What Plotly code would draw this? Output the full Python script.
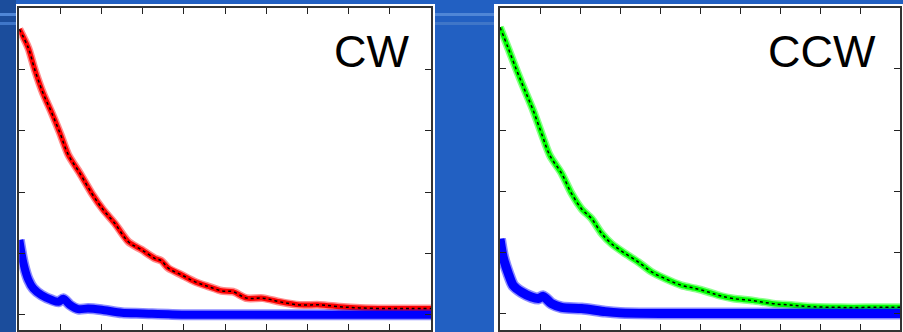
import plotly.graph_objects as go

# ---- data (x in tick units 0..10, y in tick units 0..5) ----
cw_x = [0.0, 0.22, 0.38, 0.58, 0.79, 0.99, 1.19, 1.47, 1.76, 2.04, 2.32, 2.65, 2.97,
        3.29, 3.45, 3.62, 3.94, 4.26, 4.59, 4.91, 5.19, 5.52, 5.92, 6.33, 6.8, 7.3,
        7.79, 8.27, 8.92, 9.5, 10.0]
cw_red = [4.66, 4.35, 3.99, 3.61, 3.29, 2.96, 2.61, 2.31, 1.98, 1.71, 1.49, 1.19, 1.06,
          0.92, 0.88, 0.76, 0.65, 0.54, 0.46, 0.39, 0.375, 0.27, 0.27, 0.21, 0.16, 0.16,
          0.13, 0.11, 0.10, 0.10, 0.10]

cw_blue_x = [0.0, 0.1, 0.22, 0.34, 0.54, 0.79, 0.95, 1.07, 1.23, 1.43, 1.67, 2.0,
             2.49, 3.0, 4.0, 5.0, 6.0, 7.0, 8.0, 9.0, 10.0]
cw_blue = [1.22, 0.84, 0.57, 0.43, 0.32, 0.24, 0.21, 0.26, 0.16, 0.09, 0.10, 0.08,
           0.03, 0.02, 0.0, 0.0, 0.0, 0.0, 0.0, 0.0, 0.0]

ccw_x = [0.0, 0.21, 0.42, 0.62, 0.83, 1.04, 1.25, 1.54, 1.79, 2.04, 2.29, 2.54, 2.79,
         3.13, 3.46, 3.79, 4.13, 4.54, 4.88, 5.21, 5.5, 5.83, 6.33, 6.83, 7.33, 7.83,
         8.5, 9.17, 10.0]
ccw_green = [4.68, 4.33, 3.97, 3.65, 3.32, 2.94, 2.58, 2.29, 1.96, 1.71, 1.55, 1.31,
             1.14, 0.98, 0.84, 0.68, 0.57, 0.46, 0.41, 0.35, 0.29, 0.245, 0.21, 0.16,
             0.135, 0.11, 0.10, 0.10, 0.10]

ccw_blue_x = [0.0, 0.08, 0.21, 0.33, 0.54, 0.79, 0.96, 1.08, 1.29, 1.54, 2.04, 2.63,
              3.0, 4.0, 5.0, 6.0, 7.0, 8.0, 9.0, 10.0]
ccw_blue = [1.22, 0.92, 0.65, 0.46, 0.35, 0.27, 0.245, 0.28, 0.16, 0.10, 0.08, 0.03,
            0.01, 0.0, 0.0, 0.0, 0.0, 0.0, 0.0, 0.0]

x_ticks = list(range(0, 11))
y_ticks = list(range(0, 6))
labels = ["CW", "CCW"]

W, H = 903, 332
fig = go.Figure()


def band(x, y, color, width, xa, ya):
    # soft outer halo + solid core to imitate the noisy band
    fig.add_trace(go.Scatter(x=x, y=y, mode="lines", opacity=0.45,
                             line=dict(color=color, width=width + 3, shape="spline", smoothing=0.7),
                             xaxis=xa, yaxis=ya, showlegend=False, hoverinfo="skip"))
    fig.add_trace(go.Scatter(x=x, y=y, mode="lines",
                             line=dict(color=color, width=width, shape="spline", smoothing=0.7),
                             xaxis=xa, yaxis=ya, showlegend=False))


def fit(x, y, xa, ya):
    fig.add_trace(go.Scatter(x=x, y=y, mode="lines",
                             line=dict(color="black", width=1.5, dash="3px,3px", shape="spline", smoothing=1.0),
                             xaxis=xa, yaxis=ya, showlegend=False))


band(cw_x, cw_red, "#ff0000", 5, "x", "y")
band(cw_blue_x, cw_blue, "#0000ff", 8, "x", "y")
fit(cw_x, cw_red, "x", "y")

band(ccw_x, ccw_green, "#00ff00", 5, "x2", "y2")
band(ccw_blue_x, ccw_blue, "#0000ff", 9, "x2", "y2")
fit(ccw_x, ccw_green, "x2", "y2")

axis_common = dict(showgrid=False, zeroline=False, showticklabels=False, showline=True,
                   linecolor="#333333", linewidth=1.5, mirror="ticks", ticks="inside",
                   ticklen=6, tickwidth=1.2, tickcolor="#222222", fixedrange=True)

ydom = [1 - 330 / H, 1 - 8.3 / H]
fig.update_layout(
    width=W, height=H, margin=dict(l=0, r=0, t=0, b=0),
    paper_bgcolor="#2260c2", plot_bgcolor="white",
    xaxis=dict(domain=[19.3 / W, 431 / W], range=[0, 10], tickvals=x_ticks, anchor="y", **axis_common),
    yaxis=dict(domain=ydom, range=[-0.25, 5.0], tickvals=y_ticks, anchor="x", **axis_common),
    xaxis2=dict(domain=[500 / W, 900 / W], range=[0, 10], tickvals=x_ticks, anchor="y2", **axis_common),
    yaxis2=dict(domain=ydom, range=[-0.27, 4.99], tickvals=y_ticks, anchor="x2", **axis_common),
    shapes=[
        dict(type="rect", xref="paper", yref="paper", x0=0, x1=16 / W, y0=0, y1=1,
             fillcolor="#1b4d9c", line=dict(width=0), layer="below"),
        dict(type="rect", xref="paper", yref="paper", x0=0, x1=16 / W, y0=1 - 16 / H, y1=1 - 13 / H,
             fillcolor="#4f86d6", line=dict(width=0), layer="below"),
        dict(type="rect", xref="paper", yref="paper", x0=0, x1=16 / W, y0=1 - 25 / H, y1=1 - 22 / H,
             fillcolor="#3f76c8", line=dict(width=0), layer="below"),
        dict(type="rect", xref="paper", yref="paper", x0=435 / W, x1=494 / W, y0=1 - 16 / H, y1=1 - 13 / H,
             fillcolor="#4f86d6", line=dict(width=0), layer="below"),
        dict(type="rect", xref="paper", yref="paper", x0=435 / W, x1=494 / W, y0=1 - 25 / H, y1=1 - 22 / H,
             fillcolor="#3f76c8", line=dict(width=0), layer="below"),
        dict(type="rect", xref="paper", yref="paper", x0=16 / W, x1=435 / W, y0=0, y1=1 - 4 / H,
             fillcolor="white", line=dict(width=0), layer="below"),
        dict(type="rect", xref="paper", yref="paper", x0=494 / W, x1=1, y0=0, y1=1 - 4 / H,
             fillcolor="white", line=dict(width=0), layer="below"),
    ],
    annotations=[
        dict(text=labels[0], xref="paper", yref="paper", x=411 / W, y=1 - 51 / H,
             xanchor="right", yanchor="middle", showarrow=False,
             font=dict(family="Liberation Sans, Arial", size=45, color="black")),
        dict(text=labels[1], xref="paper", yref="paper", x=878 / W, y=1 - 51 / H,
             xanchor="right", yanchor="middle", showarrow=False,
             font=dict(family="Liberation Sans, Arial", size=45, color="black")),
    ],
)

fig.write_html("out.html", config={"displayModeBar": False},
               post_script="document.body.style.margin='0';document.body.style.overflow='hidden';")
